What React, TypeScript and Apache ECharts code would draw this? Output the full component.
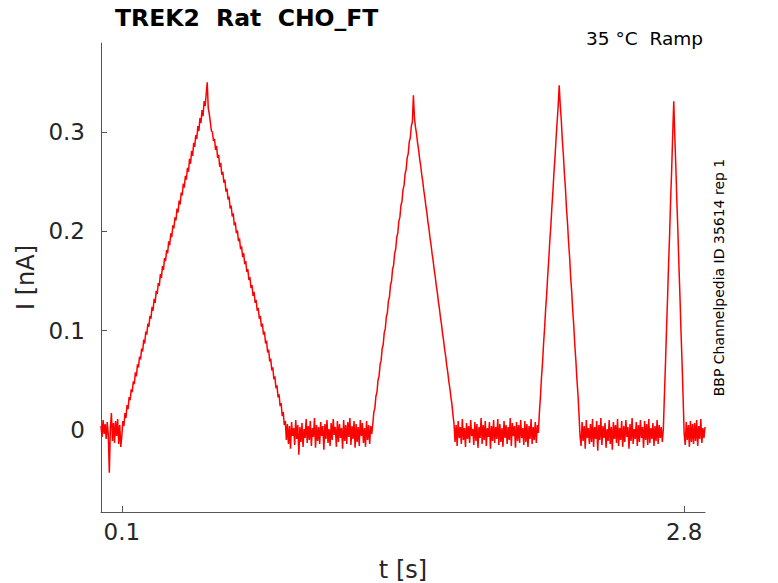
import React, { useEffect, useRef } from "react";
import * as echarts from "echarts";

// Sampled current trace (nA), one sample every SAMPLE_STEP seconds from SAMPLE_START
const SAMPLE_START = 0;
const SAMPLE_STEP = 0.005;
const currentNA: number[] = [
  // 0.000 - 0.095 baseline
  0.004, -0.007, 0.010, -0.004, 0.006, -0.009, 0.008, -0.005, -0.043, 0.002,
  0.017, -0.011, 0.007, -0.013, 0.009, -0.006, 0.011, -0.014, 0.005, -0.017,
  // 0.100 - 0.495 ramp up
  -0.006, 0.009, 0.004, 0.017, 0.012, 0.025, 0.021, 0.033, 0.030, 0.041,
  0.038, 0.049, 0.046, 0.058, 0.054, 0.066, 0.063, 0.074, 0.071, 0.082,
  0.079, 0.091, 0.087, 0.099, 0.096, 0.107, 0.104, 0.115, 0.112, 0.124,
  0.120, 0.132, 0.128, 0.140, 0.137, 0.148, 0.145, 0.157, 0.153, 0.165,
  0.161, 0.173, 0.170, 0.181, 0.178, 0.190, 0.186, 0.198, 0.194, 0.206,
  0.203, 0.214, 0.211, 0.223, 0.219, 0.231, 0.227, 0.239, 0.236, 0.248,
  0.244, 0.256, 0.252, 0.264, 0.260, 0.273, 0.268, 0.281, 0.276, 0.289,
  0.285, 0.297, 0.293, 0.306, 0.301, 0.314, 0.309, 0.322, 0.316, 0.331,
  // 0.500 - 0.895 peak and ramp down
  0.326, 0.338, 0.350, 0.324, 0.318, 0.310, 0.301, 0.300, 0.291, 0.293,
  0.282, 0.286, 0.274, 0.277, 0.265, 0.269, 0.257, 0.260, 0.249, 0.252,
  0.240, 0.243, 0.232, 0.235, 0.223, 0.226, 0.215, 0.218, 0.206, 0.209,
  0.198, 0.201, 0.190, 0.193, 0.182, 0.185, 0.174, 0.178, 0.167, 0.170,
  0.159, 0.162, 0.151, 0.154, 0.143, 0.146, 0.135, 0.139, 0.128, 0.131,
  0.120, 0.123, 0.112, 0.115, 0.104, 0.107, 0.096, 0.099, 0.087, 0.090,
  0.078, 0.081, 0.069, 0.072, 0.060, 0.063, 0.051, 0.054, 0.042, 0.045,
  0.033, 0.036, 0.024, 0.027, 0.014, 0.018, 0.005, 0.009, -0.010, 0.006,
  // 0.900 - 1.295 baseline
  -0.014, 0.004, -0.019, 0.008, -0.006, 0.002, -0.015, 0.010, -0.009, 0.005,
  -0.025, 0.003, -0.012, 0.007, -0.017, 0.001, -0.008, 0.011, -0.013, 0.004,
  -0.010, 0.009, -0.016, 0.002, -0.007, 0.012, -0.018, 0.005, -0.011, 0.003,
  -0.014, 0.008, -0.006, 0.004, -0.020, 0.006, -0.009, 0.010, -0.013, 0.001,
  -0.016, 0.007, -0.010, 0.011, -0.005, 0.003, -0.017, 0.009, -0.012, 0.006,
  -0.008, 0.002, -0.019, 0.010, -0.011, 0.005, -0.014, 0.008, -0.007, 0.012,
  -0.015, 0.004, -0.009, 0.009, -0.018, 0.006, -0.012, 0.003, -0.016, 0.010,
  -0.006, 0.007, -0.013, 0.002, -0.017, 0.009, -0.010, 0.005, -0.014, 0.004,
  // 1.300 - 1.495 ramp up
  -0.004, 0.006, 0.018, 0.022, 0.034, 0.038, 0.050, 0.054, 0.066, 0.070,
  0.082, 0.086, 0.098, 0.102, 0.114, 0.118, 0.130, 0.134, 0.146, 0.150,
  0.162, 0.166, 0.178, 0.182, 0.194, 0.198, 0.210, 0.214, 0.226, 0.230,
  0.242, 0.246, 0.258, 0.262, 0.274, 0.278, 0.290, 0.294, 0.306, 0.310,
  // 1.500 - 1.695 peak and ramp down
  0.337, 0.314, 0.305, 0.298, 0.289, 0.282, 0.273, 0.266, 0.257, 0.250,
  0.241, 0.234, 0.225, 0.218, 0.209, 0.202, 0.193, 0.186, 0.177, 0.170,
  0.161, 0.154, 0.145, 0.138, 0.129, 0.122, 0.113, 0.106, 0.097, 0.090,
  0.081, 0.074, 0.065, 0.058, 0.049, 0.042, 0.033, 0.026, 0.015, 0.006,
  // 1.700 - 2.095 baseline
  -0.012, 0.005, -0.016, 0.009, -0.008, 0.003, -0.014, 0.011, -0.010, 0.002,
  -0.017, 0.007, -0.009, 0.004, -0.013, 0.010, -0.006, 0.001, -0.015, 0.008,
  -0.011, 0.006, -0.018, 0.003, -0.008, 0.012, -0.014, 0.005, -0.010, 0.009,
  -0.016, 0.002, -0.007, 0.008, -0.019, 0.004, -0.011, 0.010, -0.013, 0.003,
  -0.009, 0.011, -0.015, 0.006, -0.012, 0.002, -0.017, 0.009, -0.008, 0.005,
  -0.014, 0.003, -0.010, 0.012, -0.016, 0.007, -0.006, 0.004, -0.018, 0.008,
  -0.011, 0.005, -0.013, 0.010, -0.008, 0.002, -0.015, 0.009, -0.012, 0.006,
  -0.017, 0.004, -0.009, 0.011, -0.014, 0.003, -0.010, 0.008, -0.013, 0.005,
  // 2.100 - 2.295 ramp up, peak, ramp down
  -0.003, 0.018, 0.034, 0.053, 0.068, 0.087, 0.103, 0.122, 0.137, 0.156,
  0.172, 0.191, 0.206, 0.225, 0.241, 0.260, 0.275, 0.294, 0.310, 0.326,
  0.347, 0.327, 0.312, 0.292, 0.277, 0.258, 0.243, 0.223, 0.208, 0.189,
  0.174, 0.154, 0.139, 0.120, 0.105, 0.085, 0.070, 0.051, 0.036, 0.016,
  // 2.300 - 2.695 baseline
  -0.006, -0.016, 0.008, -0.011, 0.004, -0.019, 0.010, -0.008, 0.002, -0.014,
  0.006, -0.012, 0.011, -0.017, 0.003, -0.009, 0.009, -0.021, 0.005, -0.010,
  0.012, -0.015, 0.004, -0.008, 0.007, -0.018, 0.001, -0.011, 0.010, -0.014,
  0.003, -0.020, 0.008, -0.009, 0.005, -0.013, 0.011, -0.016, 0.002, -0.010,
  0.009, -0.017, 0.004, -0.012, 0.010, -0.007, 0.003, -0.019, 0.006, -0.011,
  0.012, -0.014, 0.001, -0.009, 0.008, -0.016, 0.005, -0.012, 0.010, -0.008,
  0.003, -0.018, 0.009, -0.010, 0.006, -0.015, 0.011, -0.013, 0.002, -0.009,
  0.007, -0.016, 0.004, -0.011, 0.010, -0.014, 0.005, -0.008, 0.003, -0.012,
  // 2.700 - 2.795 ramp up, peak, ramp down
  0.001, 0.034, 0.065, 0.100, 0.131, 0.166, 0.196, 0.232, 0.262, 0.298,
  0.331, 0.296, 0.265, 0.230, 0.199, 0.164, 0.133, 0.098, 0.067, 0.032,
  // 2.800 - 2.900 baseline
  -0.004, -0.015, 0.008, -0.010, 0.005, -0.017, 0.009, -0.012, 0.006, -0.014,
  0.007, -0.011, 0.010, -0.016, 0.004, -0.009, 0.011, -0.013, 0.002, -0.008,
  0.003,
];

const xTickValues = [0.1, 2.8];
const yTickValues = [0, 0.1, 0.2, 0.3];
const xRange = [0, 2.9];
const yRange = [-0.0826, 0.3896];

const titleText = "TREK2  Rat  CHO_FT";
const conditionText = "35 °C  Ramp";
const sourceText = "BBP Channelpedia ID 35614 rep 1";
const xName = "t [s]";
const yName = "I [nA]";

const FONT = "DejaVu Sans, Noto Sans, sans-serif";
const AXIS_COLOR = "#555555";
const TEXT_COLOR = "#262626";

export default function App() {
  const ref = useRef<HTMLDivElement>(null);

  useEffect(() => {
    if (!ref.current) return;
    const chart = echarts.init(ref.current, undefined, { renderer: "svg" });
    const points = currentNA.map((v, i) => [
      +(SAMPLE_START + i * SAMPLE_STEP).toFixed(4),
      v,
    ]);

    chart.setOption({
      animation: false,
      backgroundColor: "#ffffff",
      textStyle: { fontFamily: FONT },
      grid: {
        left: 101,
        right: 73,
        top: 43,
        bottom: 71,
        containLabel: false,
        outerBoundsMode: "none",
      },
      title: {
        text: titleText,
        left: 110,
        top: 1,
        textStyle: {
          fontFamily: FONT,
          fontWeight: "bold",
          fontSize: 23.5,
          color: "#000000",
        },
      },
      graphic: [
        {
          type: "text",
          right: 75,
          top: 29,
          style: {
            text: conditionText,
            font: `18.5px ${FONT}`,
            fill: "#000000",
          },
        },
        {
          type: "text",
          x: 726,
          y: 277.5,
          rotation: Math.PI / 2,
          style: {
            text: sourceText,
            font: `14px ${FONT}`,
            fill: "#000000",
            align: "center",
            verticalAlign: "bottom",
          },
        },
      ],
      xAxis: {
        type: "value",
        min: xRange[0],
        max: xRange[1],
        name: xName,
        nameLocation: "middle",
        nameGap: 46,
        nameTextStyle: { fontFamily: FONT, fontSize: 24, color: TEXT_COLOR },
        axisLine: {
          show: true,
          onZero: false,
          lineStyle: { color: AXIS_COLOR, width: 1 },
        },
        axisTick: {
          show: true,
          inside: true,
          length: 6,
          customValues: xTickValues,
          lineStyle: { color: AXIS_COLOR },
        },
        axisLabel: {
          show: true,
          customValues: xTickValues,
          margin: 8,
          fontFamily: FONT,
          fontSize: 23,
          color: TEXT_COLOR,
          formatter: (v: number) => String(v),
        },
        splitLine: { show: false },
      },
      yAxis: {
        type: "value",
        min: yRange[0],
        max: yRange[1],
        name: yName,
        nameLocation: "middle",
        nameGap: 58,
        nameTextStyle: { fontFamily: FONT, fontSize: 24, color: TEXT_COLOR },
        axisLine: {
          show: true,
          onZero: false,
          lineStyle: { color: AXIS_COLOR, width: 1 },
        },
        axisTick: {
          show: true,
          inside: true,
          length: 6,
          customValues: yTickValues,
          lineStyle: { color: AXIS_COLOR },
        },
        axisLabel: {
          show: true,
          customValues: yTickValues,
          margin: 16,
          fontFamily: FONT,
          fontSize: 23,
          color: TEXT_COLOR,
          formatter: (v: number) => String(v),
        },
        splitLine: { show: false },
      },
      series: [
        {
          type: "line",
          data: points,
          showSymbol: false,
          symbol: "none",
          lineStyle: { color: "#ff0000", width: 1.5 },
          clip: true,
        },
      ],
    });

    return () => chart.dispose();
  }, []);

  return (
    <div
      ref={ref}
      style={{ position: "fixed", left: 0, top: 0, width: 778, height: 583 }}
    />
  );
}
